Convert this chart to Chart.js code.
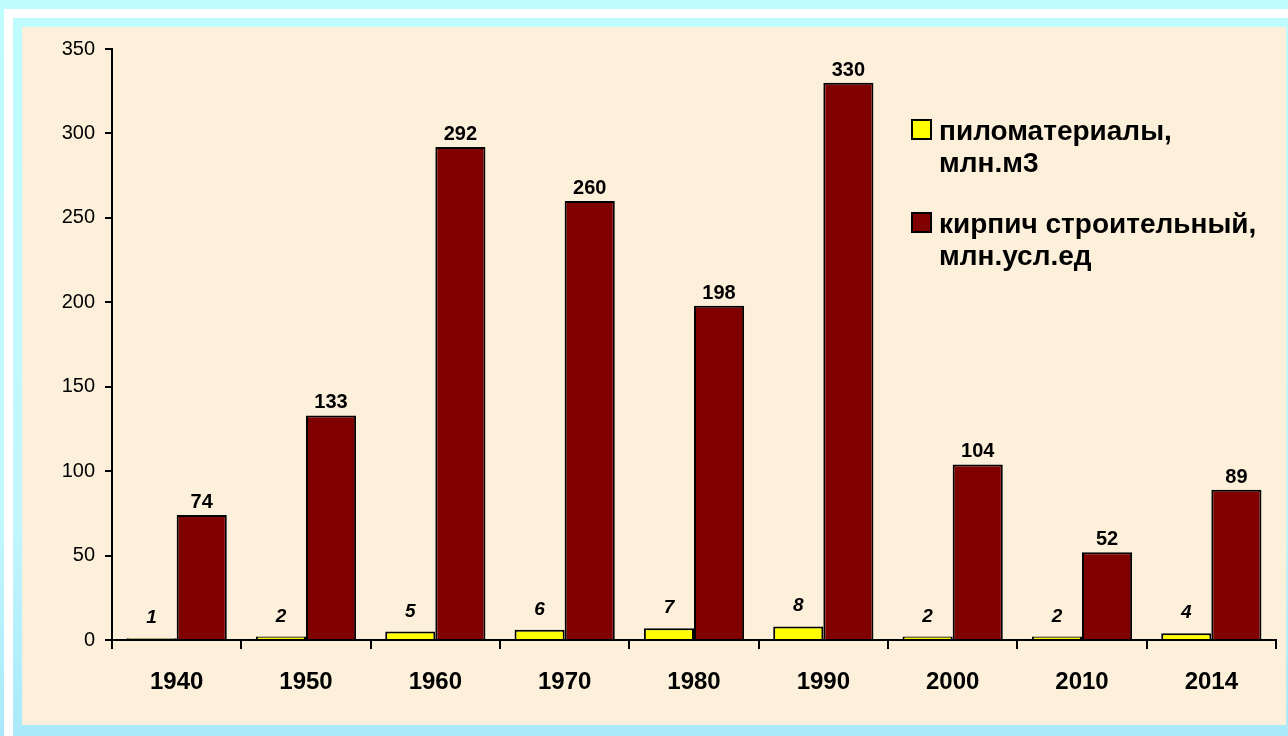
<!DOCTYPE html>
<html>
<head>
<meta charset="utf-8">
<script src="https://cdn.jsdelivr.net/npm/chart.js@4.4.1/dist/chart.umd.min.js"></script>
<style>
  html, body { margin: 0; padding: 0; }
  body {
    width: 1288px; height: 736px; overflow: hidden; position: relative;
    background: linear-gradient(180deg, #befcfe 0%, #c2f7fd 70%, #a9e9fb 100%);
    font-family: "Liberation Sans", Arial, sans-serif;
  }
  .stripe-top { position: absolute; left: 4px; top: 9px; width: 1284px; height: 9px; background: #fff; }
  .stripe-left { position: absolute; left: 4px; top: 9px; width: 9px; height: 727px; background: #fff; }
  .panel {
    position: absolute; left: 22px; top: 27px; width: 1264px; height: 698px;
    background: #fcf0da;
  }
</style>
</head>
<body>
<div class="stripe-top"></div>
<div class="stripe-left"></div>
<div class="panel"><canvas id="prodChart" width="1264" height="698"></canvas></div>
<script>
// years on the x axis
const years = ['1940', '1950', '1960', '1970', '1980', '1990', '2000', '2010', '2014'];
// lumber, mln m3
const lumber = [1, 2, 5, 6, 7, 8, 2, 2, 4];
// building brick, mln conv. units
const brick = [74, 133, 292, 260, 198, 330, 104, 52, 89];
const yTicks = [0, 50, 100, 150, 200, 250, 300, 350];

const lumberLabel = ['пиломатериалы,', 'млн.м3'];
const brickLabel = ['кирпич строительный,', 'млн.усл.ед'];

const FONT = '"Liberation Sans", Arial, sans-serif';

// value labels above bars
const valueLabels = {
    id: 'valueLabels',
    afterDatasetsDraw(chart) {
        const ctx = chart.ctx;
        chart.data.datasets.forEach((ds, i) => {
            const meta = chart.getDatasetMeta(i);
            ctx.save();
            ctx.fillStyle = '#000';
            ctx.textAlign = 'center';
            ctx.textBaseline = 'alphabetic';
            ctx.font = (i === 0 ? 'italic bold 19px ' : 'bold 20px ') + FONT;
            meta.data.forEach((bar, j) => {
                const gap = i === 0 ? 15 : 7;
                ctx.fillText(String(ds.data[j]), bar.x, bar.y - gap);
            });
            ctx.restore();
        });
    }
};

// legend drawn inside the plot, two lines per entry
const sideLegend = {
    id: 'sideLegend',
    afterDraw(chart) {
        const ctx = chart.ctx;
        const x = 890, size = 19;
        const tops = [93, 186];
        ctx.save();
        chart.data.datasets.forEach((ds, i) => {
            const top = tops[i];
            ctx.fillStyle = ds.backgroundColor;
            ctx.fillRect(x, top, size, size);
            ctx.lineWidth = 2;
            ctx.strokeStyle = '#000';
            ctx.strokeRect(x, top, size, size);
            ctx.fillStyle = '#000';
            ctx.font = 'bold 28px ' + FONT;
            ctx.textAlign = 'left';
            ctx.textBaseline = 'alphabetic';
            ds.legendLines.forEach((line, k) => {
                ctx.fillText(line, x + 27, top + 20 + k * 32);
            });
        });
        ctx.restore();
    }
};

new Chart(document.getElementById('prodChart'), {
    type: 'bar',
    data: {
        labels: years,
        datasets: [{
            label: lumberLabel.join(' '),
            legendLines: lumberLabel,
            data: lumber,
            backgroundColor: '#ffff00',
            borderColor: '#000',
            borderWidth: 2,
            categoryPercentage: 0.775,
            barPercentage: 1
        }, {
            label: brickLabel.join(' '),
            legendLines: brickLabel,
            data: brick,
            backgroundColor: '#800000',
            borderColor: '#000',
            borderWidth: 2,
            categoryPercentage: 0.775,
            barPercentage: 1
        }]
    },
    options: {
        responsive: false,
        animation: false,
        layout: { padding: { top: 21, right: 10, bottom: 0, left: 0 } },
        plugins: {
            legend: { display: false },
            tooltip: { enabled: false }
        },
        scales: {
            x: {
                afterFit: s => { s.height = 85; },
                grid: {
                    offset: true,
                    drawOnChartArea: false,
                    color: '#000',
                    tickLength: 9,
                    lineWidth: 2
                },
                border: { display: true, color: '#000', width: 2 },
                ticks: {
                    color: '#000',
                    padding: 19,
                    font: { family: FONT, size: 24, weight: 'bold' }
                }
            },
            y: {
                min: 0,
                max: 350,
                afterFit: s => { s.width = 90; },
                afterBuildTicks: s => { s.ticks = yTicks.map(v => ({ value: v })); },
                grid: {
                    drawOnChartArea: false,
                    color: '#000',
                    tickLength: 7,
                    lineWidth: 2
                },
                border: { display: true, color: '#000', width: 2 },
                ticks: {
                    color: '#000',
                    padding: 10,
                    font: { family: FONT, size: 20 }
                }
            }
        }
    },
    plugins: [valueLabels, sideLegend]
});
</script>
</body>
</html>
